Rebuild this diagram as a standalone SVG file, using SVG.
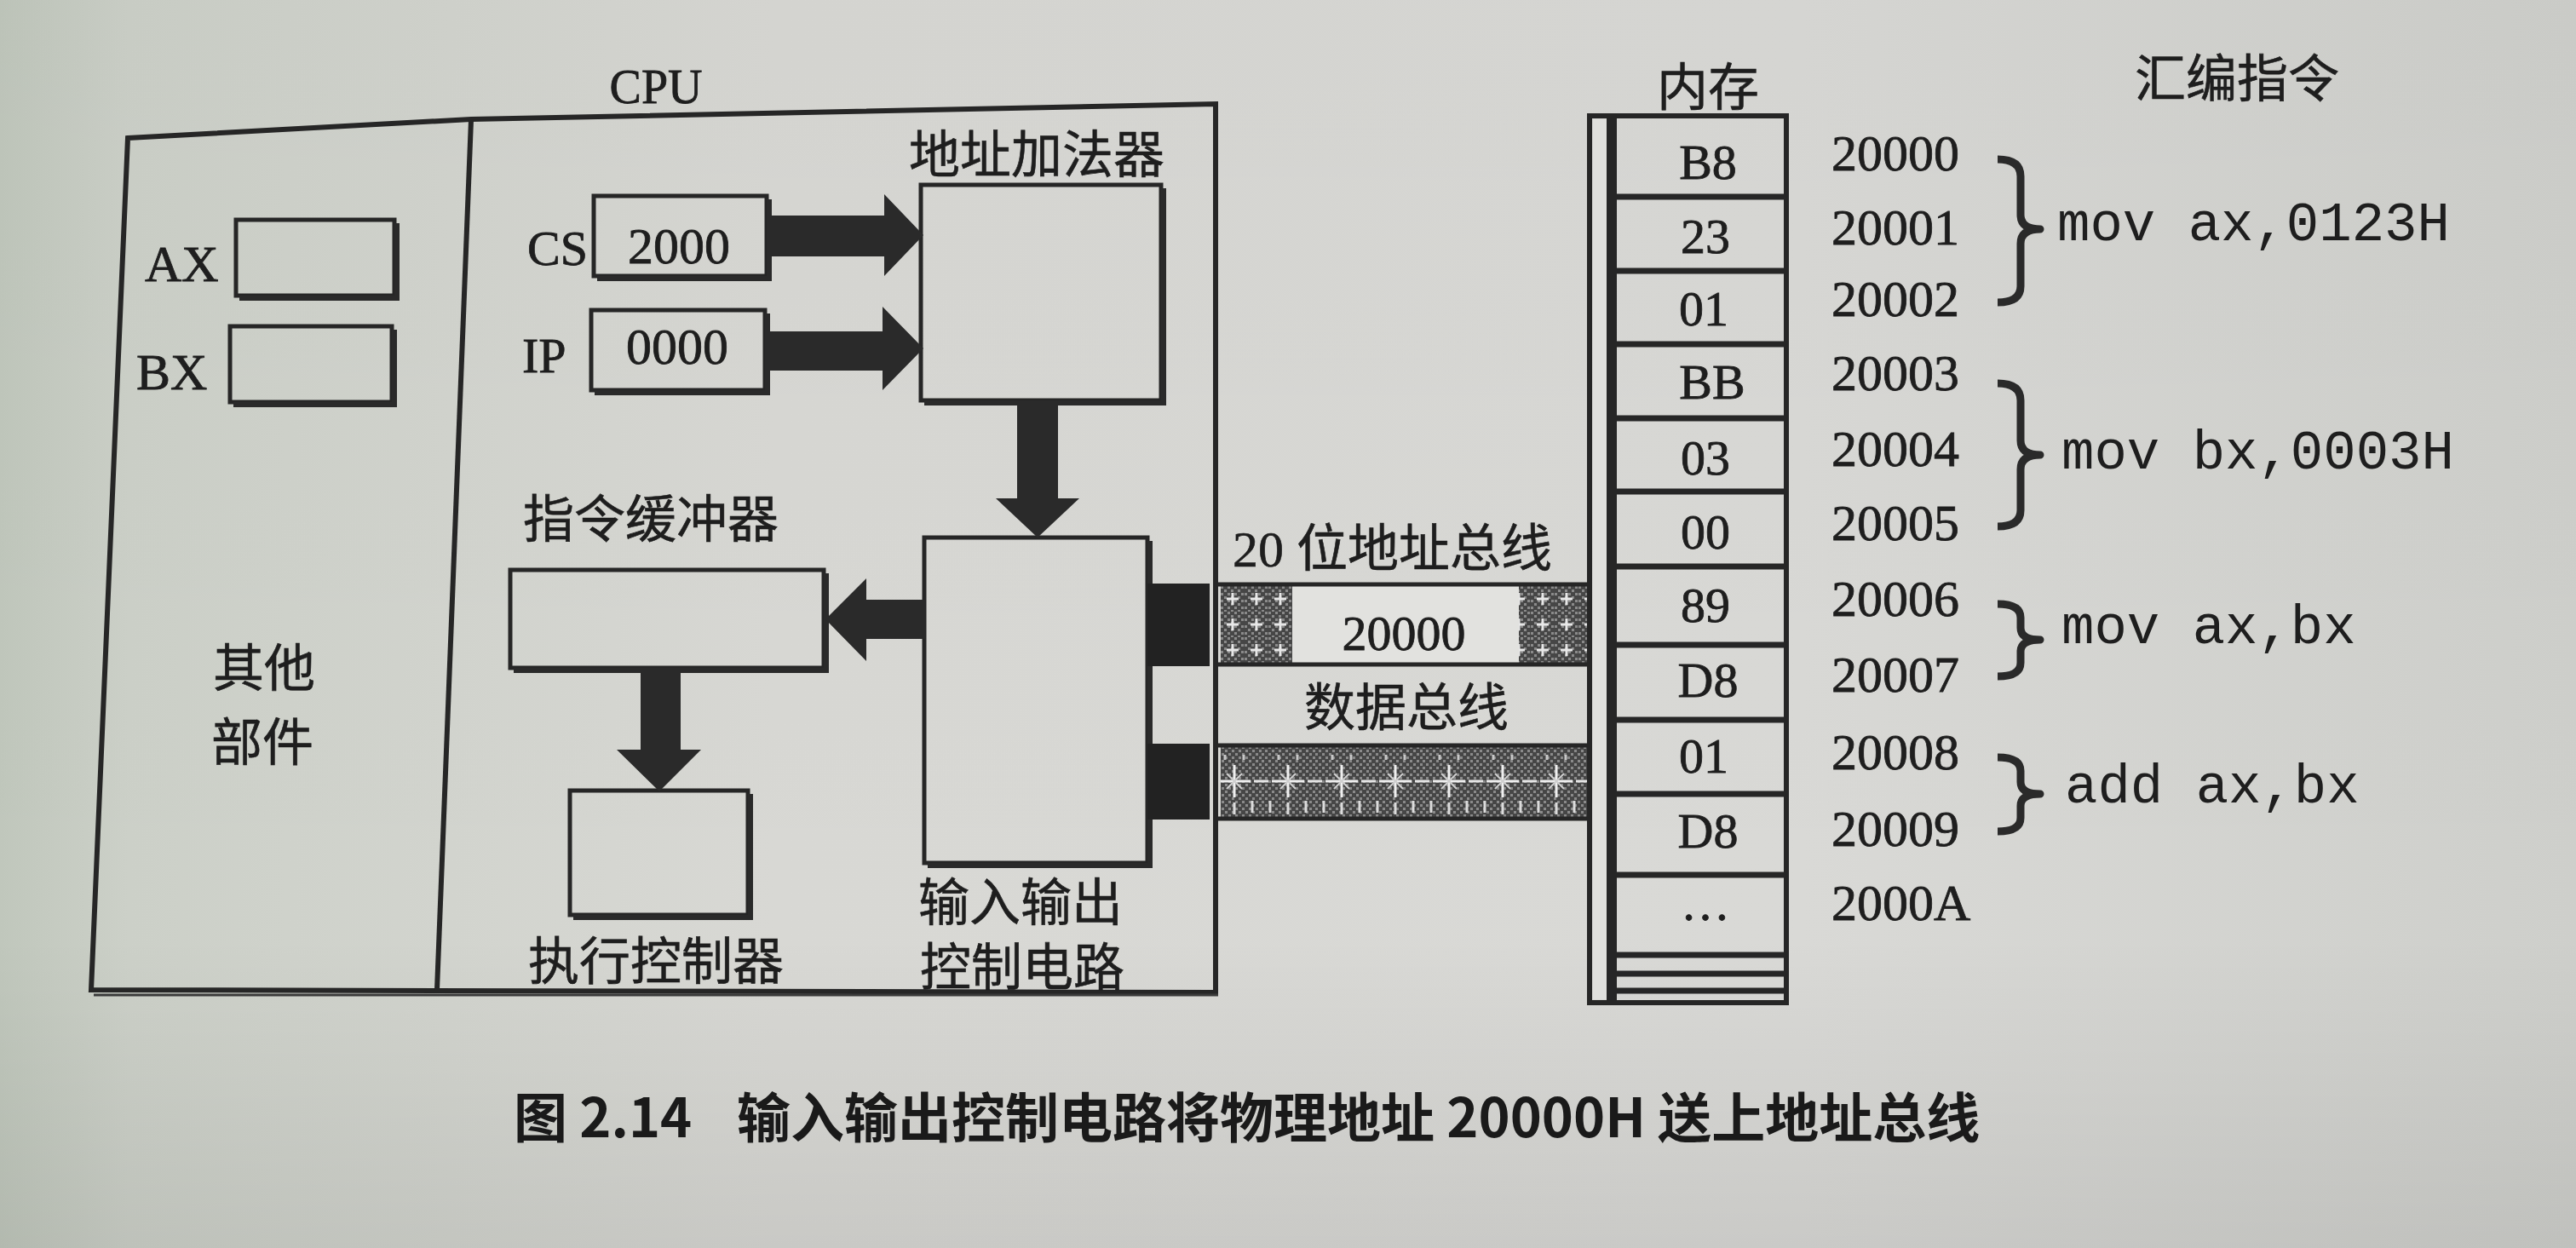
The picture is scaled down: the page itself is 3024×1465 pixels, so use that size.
<svg xmlns="http://www.w3.org/2000/svg" width="3024" height="1465" viewBox="0 0 3024 1465">
<defs>
<linearGradient id="paper" x1="0" y1="0" x2="1" y2="0">
 <stop offset="0" stop-color="#c0c7bc"/>
 <stop offset="0.05" stop-color="#ccd0c8"/>
 <stop offset="0.3" stop-color="#d8d8d4"/>
 <stop offset="0.7" stop-color="#d9d9d6"/>
 <stop offset="1" stop-color="#cecfcb"/>
</linearGradient>
<linearGradient id="shade" x1="0" y1="0" x2="0" y2="1">
 <stop offset="0" stop-color="#000" stop-opacity="0.02"/>
 <stop offset="0.75" stop-color="#000" stop-opacity="0"/>
 <stop offset="1" stop-color="#000" stop-opacity="0.07"/>
</linearGradient>
<pattern id="fine" width="8" height="8" patternUnits="userSpaceOnUse">
 <rect width="8" height="8" fill="#464646"/>
 <rect x="0" y="0" width="3" height="3" fill="#8a8a8a"/>
 <rect x="4" y="4" width="3" height="3" fill="#8a8a8a"/>
</pattern>
<pattern id="hatchA" width="28" height="30" patternUnits="userSpaceOnUse" x="1433" y="688">
 <rect width="28" height="30" fill="url(#fine)"/>
 <path d="M14 8V22M7 15H21" stroke="#e8e8e8" stroke-width="3"/>
</pattern>
<pattern id="hatchD" width="63" height="84" patternUnits="userSpaceOnUse" x="1418" y="876">
 <rect width="63" height="84" fill="url(#fine)"/>
 <path d="M31 22V60M12 41H50" stroke="#f0f0f0" stroke-width="3"/>
 <path d="M0 41H8M54 41H63" stroke="#e6e6e6" stroke-width="3"/>
 <path d="M22 32L40 50M40 32L22 50" stroke="#cfcfcf" stroke-width="2"/>
 <path d="M10 64V78M31 66V80M52 64V78" stroke="#dcdcdc" stroke-width="3"/>
 <path d="M20 10V16M42 10V16" stroke="#c8c8c8" stroke-width="3"/>
</pattern>
<style>
.ln{fill:none;stroke:#262626;stroke-width:5}
.fr{fill:none;stroke:#262626;stroke-width:6}
.sh{fill:none;stroke:#2a2a2a;stroke-width:6}
.ser{font-family:"Liberation Serif","Noto Sans CJK SC",serif;fill:#1e1e1e;stroke:#1e1e1e;stroke-width:0.8}
.cjk{font-family:"Liberation Serif","Noto Sans CJK SC",sans-serif;fill:#1e1e1e;font-size:60px;stroke:#1e1e1e;stroke-width:0.6}
.mono{font-family:"Liberation Mono",monospace;font-size:64px;fill:#1e1e1e}
.arr{fill:#2a2a2a}
.brace{fill:none;stroke:#2a2a2a;stroke-width:9;stroke-linejoin:round}
.cap{font-family:"Noto Sans CJK SC",sans-serif;font-weight:700;font-size:63px;fill:#1a1a1a}
.cell{font-family:"Liberation Serif",serif;font-size:58px;fill:#1e1e1e;text-anchor:middle;stroke:#1e1e1e;stroke-width:0.8}
.addr{font-family:"Liberation Serif",serif;font-size:60px;fill:#1e1e1e;stroke:#1e1e1e;stroke-width:0.8}
.mid{text-anchor:middle}
.rowl{stroke:#262626;stroke-width:7}
</style>
</defs>

<rect width="3024" height="1465" fill="url(#paper)"/>
<rect width="3024" height="1465" fill="url(#shade)"/>

<g id="frame">
 <path class="fr" d="M150,162 L553,140 L1427,122 L1427,1165 L107,1162 Z"/>
 <path class="fr" d="M553,141 L513,1162"/>
 <path d="M110,1168 H1430" stroke="#3a3a3a" stroke-width="3" fill="none"/>
 <text class="ser" x="770" y="121" font-size="56" text-anchor="middle">CPU</text>
</g>

<g id="other">
 <text class="cjk mid" x="310" y="806" font-size="56">其他</text>
 <text class="cjk mid" x="308" y="893" font-size="56">部件</text>
</g>

<g id="ax">
 <rect class="ln" x="277" y="258" width="186" height="89"/>
 <path class="sh" d="M466,262 V350 H281"/>
 <text class="ser" x="170" y="330" font-size="60">AX</text>
</g>
<g id="bx">
 <rect class="ln" x="270" y="383" width="190" height="89"/>
 <path class="sh" d="M463,387 V475 H274"/>
 <text class="ser" x="160" y="457" font-size="60">BX</text>
</g>

<g id="cs">
 <rect class="ln" x="697" y="230" width="203" height="94"/>
 <path class="sh" d="M903,234 V327 H701"/>
 <text class="ser" x="619" y="311" font-size="58">CS</text>
 <text class="ser" x="797" y="309" font-size="60" text-anchor="middle">2000</text>
</g>
<g id="ip">
 <rect class="ln" x="694" y="364" width="204" height="94"/>
 <path class="sh" d="M901,368 V461 H698"/>
 <text class="ser" x="613" y="437" font-size="58">IP</text>
 <text class="ser" x="795" y="427" font-size="60" text-anchor="middle">0000</text>
</g>

<g id="adder">
 <rect class="ln" x="1081" y="217" width="282" height="253"/>
 <path class="sh" d="M1366,221 V473 H1085"/>
 <text class="cjk mid" x="1217" y="203">地址加法器</text>
</g>

<g id="io">
 <rect class="ln" x="1085" y="631" width="262" height="382"/>
 <path class="sh" d="M1350,635 V1016 H1089"/>
 <text class="cjk mid" x="1198" y="1081">输入输出</text>
 <text class="cjk mid" x="1200" y="1157">控制电路</text>
</g>

<g id="buffer">
 <rect class="ln" x="599" y="669" width="368" height="115"/>
 <path class="sh" d="M970,673 V787 H603"/>
 <text class="cjk mid" x="764" y="631">指令缓冲器</text>
</g>

<g id="exec">
 <rect class="ln" x="669" y="928" width="209" height="146"/>
 <path class="sh" d="M881,932 V1077 H673"/>
 <text class="cjk mid" x="770" y="1150">执行控制器</text>
</g>

<g id="connectors">
 <path class="arr" d="M900,253 H1038 V228 L1084,276 L1038,324 V301 H900 Z"/>
 <path class="arr" d="M898,389 H1036 V360 L1084,409 L1036,458 V435 H898 Z"/>
 <path class="arr" d="M1194,470 H1242 V585 H1267 L1218,631 L1169,585 H1194 Z"/>
 <path class="arr" d="M1086,704 V750 H1017 V776 L969,727 L1017,679 V704 Z"/>
 <path class="arr" d="M752,784 H799 V880 H823 L774,929 L724,880 H752 Z"/>
 <rect x="1347" y="685" width="73" height="97" fill="#222"/>
 <rect x="1347" y="873" width="73" height="89" fill="#222"/>
</g>

<g id="address-bus">
 <rect x="1433" y="688" width="84" height="90" fill="url(#hatchA)"/>
 <rect x="1783" y="688" width="82" height="90" fill="url(#hatchA)"/>
 <rect x="1517" y="688" width="266" height="90" fill="#e2e2df"/>
 <path d="M1430,686 H1865 M1430,780 H1865" stroke="#262626" stroke-width="5"/>
 <text class="cjk" x="1447" y="665">20 位地址总线</text>
 <text class="ser" x="1648" y="763" font-size="58" text-anchor="middle">20000</text>
</g>

<g id="data-bus">
 <rect x="1433" y="876" width="432" height="84" fill="url(#hatchD)"/>
 <path d="M1430,875 H1865 M1430,961 H1865" stroke="#262626" stroke-width="5"/>
 <text class="cjk mid" x="1651" y="852">数据总线</text>
</g>

<g id="memory">
 <text class="cjk mid" x="2005" y="124" font-size="58">内存</text>
 <rect x="1866" y="136" width="231" height="1041" fill="none" stroke="#262626" stroke-width="6"/>
 <rect x="1870" y="140" width="17" height="1033" fill="#e0e0dd"/>
 <path d="M1892,136 V1177" stroke="#262626" stroke-width="12"/>
 <path class="rowl" d="M1892,231 H2097 M1892,318 H2097 M1892,404 H2097 M1892,491 H2097 M1892,577 H2097 M1892,665 H2097 M1892,757 H2097 M1892,845 H2097 M1892,932 H2097 M1892,1027 H2097 M1892,1121 H2097 M1892,1143 H2097 M1892,1163 H2097"/>
 <text class="cell" x="2005" y="210">B8</text>
 <text class="cell" x="2002" y="297">23</text>
 <text class="cell" x="2000" y="382">01</text>
 <text class="cell" x="2010" y="468">BB</text>
 <text class="cell" x="2002" y="557">03</text>
 <text class="cell" x="2002" y="644">00</text>
 <text class="cell" x="2002" y="730">89</text>
 <text class="cell" x="2005" y="818">D8</text>
 <text class="cell" x="2000" y="907">01</text>
 <text class="cell" x="2005" y="995">D8</text>
 <text class="cell" x="2002" y="1080">…</text>
</g>

<g id="addresses">
 <text class="addr" x="2150" y="200">20000</text>
 <text class="addr" x="2150" y="287">20001</text>
 <text class="addr" x="2150" y="371">20002</text>
 <text class="addr" x="2150" y="458">20003</text>
 <text class="addr" x="2150" y="547">20004</text>
 <text class="addr" x="2150" y="634">20005</text>
 <text class="addr" x="2150" y="723">20006</text>
 <text class="addr" x="2150" y="812">20007</text>
 <text class="addr" x="2150" y="903">20008</text>
 <text class="addr" x="2150" y="993">20009</text>
 <text class="addr" x="2150" y="1080">2000A</text>
</g>

<g id="instructions">
 <text class="cjk mid" x="2626" y="114">汇编指令</text>
 <path class="brace" d="M2345,187 Q2372,187 2372,207 L2372,252 Q2372,269 2395,269 Q2372,269 2372,286 L2372,336 Q2372,355 2345,355"/>
 <path class="brace" d="M2345,450 Q2372,450 2372,470 L2372,517 Q2372,534 2395,534 Q2372,534 2372,551 L2372,599 Q2372,618 2345,618"/>
 <path class="brace" d="M2345,709 Q2372,709 2372,725 L2372,737 Q2372,751 2395,751 Q2372,751 2372,765 L2372,778 Q2372,794 2345,794"/>
 <path class="brace" d="M2345,889 Q2372,889 2372,905 L2372,918 Q2372,932 2395,932 Q2372,932 2372,946 L2372,960 Q2372,976 2345,976"/>
 <text class="mono" x="2415" y="282">mov ax,0123H</text>
 <text class="mono" x="2420" y="550">mov bx,0003H</text>
 <text class="mono" x="2420" y="755">mov ax,bx</text>
 <text class="mono" x="2424" y="942">add ax,bx</text>
</g>

<g id="caption">
 <text class="cap" x="603" y="1335">图 2.14</text>
 <text class="cap" x="865" y="1335">输入输出控制电路将物理地址 20000H 送上地址总线</text>
</g>
</svg>
